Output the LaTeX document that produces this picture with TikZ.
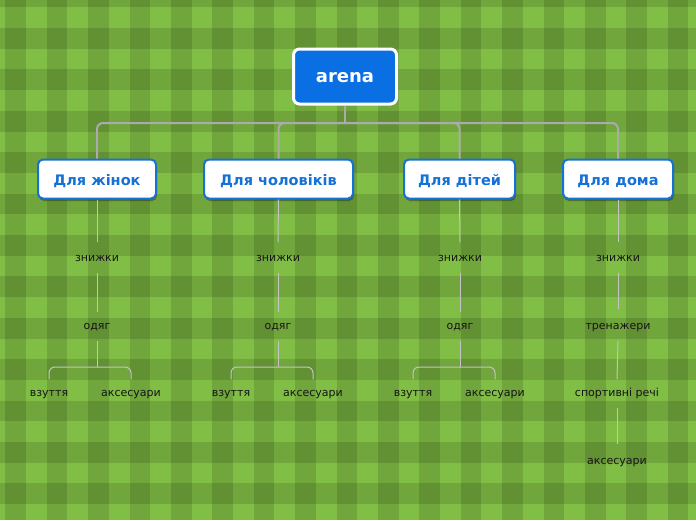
\documentclass[tikz,border=0pt]{standalone}
\usepackage{fontspec}
\setmainfont{DejaVu Sans}
\usetikzlibrary{shadows}
\definecolor{bglight}{HTML}{80BE45}
\definecolor{rootblue}{HTML}{0A6FE3}
\definecolor{childblue}{HTML}{1571D6}
\definecolor{mainline}{HTML}{ABABAB}
\definecolor{subline}{HTML}{C4C4C4}
\definecolor{leaftext}{HTML}{151515}
\tikzset{
  rootbox/.style={fill=rootblue, draw=white, line width=3pt, rounded corners=6pt,
    minimum width=103pt, minimum height=55pt, text=white,
    text height=12.4pt, text depth=0pt,
    font=\fontsize{18}{20}\selectfont\bfseries, inner sep=0pt},
  childbox/.style={fill=white, draw=childblue, line width=2pt, rounded corners=5pt,
    minimum height=39pt, text=childblue, inner sep=0pt,
    text height=13.5pt, text depth=0pt,
    font=\fontsize{14.5}{16}\selectfont\bfseries,
    drop shadow={shadow xshift=1pt, shadow yshift=-2.5pt, opacity=0.3, fill=black}},
  leaf/.style={minimum height=30pt, inner sep=0pt, text=leaftext,
    text height=7.6pt, text depth=0pt,
    font=\fontsize{11}{13}\selectfont},
  mainconn/.style={draw=mainline, line width=2pt, rounded corners=6pt},
  subconn/.style={draw=subline, line width=1pt, rounded corners=6pt},
}
\begin{document}
\begin{tikzpicture}[x=1pt, y=-1pt]
\useasboundingbox (0,0) rectangle (696,520);
% background plaid
\begin{scope}
\clip (0,0) rectangle (696,520);
\fill[bglight] (0,0) rectangle (696,520);
\foreach \i in {-1,...,17} {
  \fill[black, opacity=0.12] ({5.3+41.4*\i},0) rectangle ++(20.7,520);
}
\foreach \j in {-1,...,12} {
  \fill[black, opacity=0.12] (0,{28+41.4*\j}) rectangle ++(696,20.7);
}
\end{scope}

% nodes
\node[rootbox] (root) at (345,76.5) {arena};
\node[childbox, minimum width=118pt] (c1) at (97,179) {Для жінок};
\node[childbox, minimum width=149pt] (c2) at (278.5,179) {Для чоловіків};
\node[childbox, minimum width=111pt] (c3) at (459.5,179) {Для дітей};
\node[childbox, minimum width=110pt] (c4) at (618,179) {Для дома};

\node[leaf] (z1) at (97,257.5) {знижки};
\node[leaf] (o1) at (97,325.5) {одяг};
\node[leaf] (v1) at (49,392.5) {взуття};
\node[leaf] (a1) at (131,392.5) {аксесуари};

\node[leaf] (z2) at (278,257.5) {знижки};
\node[leaf] (o2) at (278,325.5) {одяг};
\node[leaf] (v2) at (231,392.5) {взуття};
\node[leaf] (a2) at (313,392.5) {аксесуари};

\node[leaf] (z3) at (460,257.5) {знижки};
\node[leaf] (o3) at (460,325.5) {одяг};
\node[leaf] (v3) at (413,392.5) {взуття};
\node[leaf] (a3) at (495,392.5) {аксесуари};

\node[leaf] (z4) at (618,257.5) {знижки};
\node[leaf] (t4) at (618,325.5) {тренажери};
\node[leaf] (s4) at (617,392.5) {спортивні речі};
\node[leaf] (a4) at (617,460.5) {аксесуари};

% main connectors
\coordinate (bar) at (345,123);
\draw[mainconn] (root.south) -- (bar);
\foreach \c in {c1,c2,c3,c4} {
  \draw[mainconn] (bar) -| (\c.north);
}

% sub connectors
\foreach \k/\x in {1/97,2/278,3/460} {
  \draw[subconn] (c\k.south) -- (z\k.north);
  \draw[subconn] (z\k.south) -- ([yshift=-1.5pt]o\k.north);
  \coordinate (b\k) at (\x,367);
  \draw[subconn] (o\k.south) -- (b\k);
  \draw[subconn] (b\k) -| ([yshift=-2pt]v\k.north);
  \draw[subconn] (b\k) -| ([yshift=-2pt]a\k.north);
}
\draw[subconn] (c4.south) -- (z4.north);
\draw[subconn] (z4.south) -- ([yshift=1pt]t4.north);
\draw[subconn] (t4.south) -- ([yshift=-2pt]s4.north);
\draw[subconn] (s4.south) -- ([yshift=1pt]a4.north);
\end{tikzpicture}
\end{document}
